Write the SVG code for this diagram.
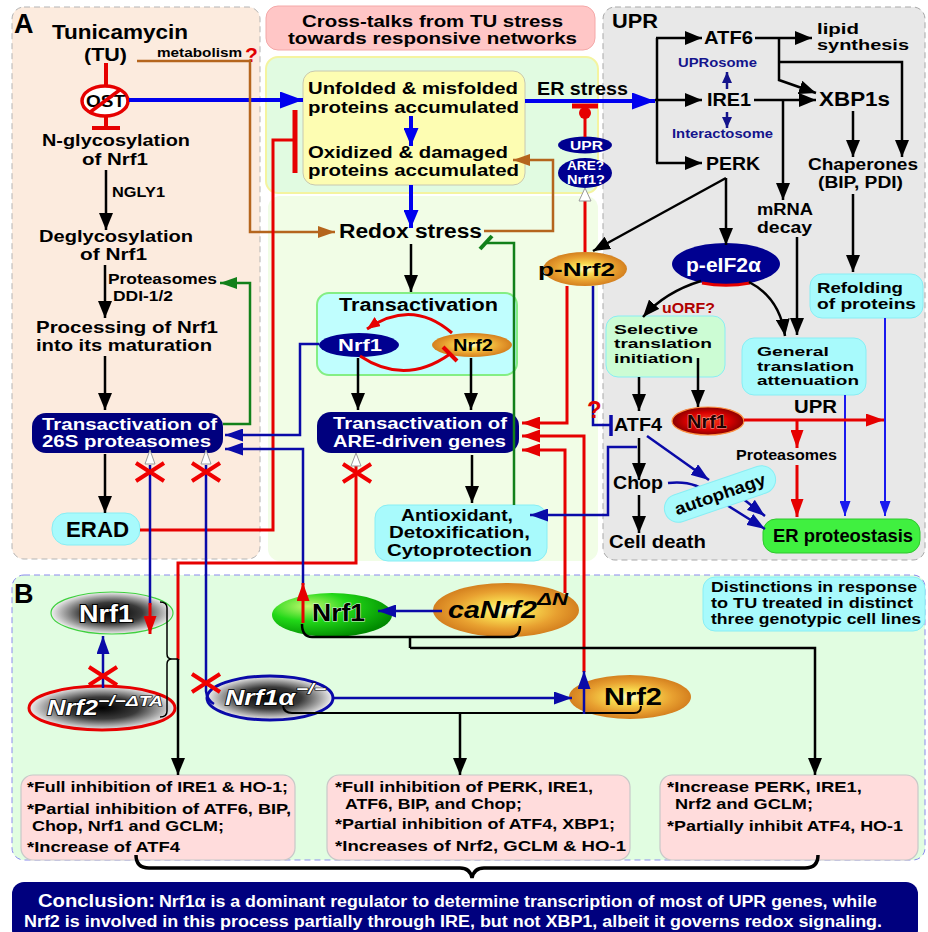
<svg xmlns="http://www.w3.org/2000/svg" width="928" height="932" viewBox="0 0 928 932">
<defs>
<style>
text{font-family:"Liberation Sans",Arial,sans-serif;font-weight:bold;fill:#000}
.w{fill:#fff}
.nv{fill:#14148c}
.it{font-style:italic}
.bk{stroke:#000;stroke-width:2.5;fill:none}
.bl{stroke:#0000ee;stroke-width:4;fill:none}
.bt{stroke:#1a1aee;stroke-width:2;fill:none}
.nb{stroke:#0a0aa8;stroke-width:2.5;fill:none}
.rd{stroke:#e60000;stroke-width:3;fill:none}
.br{stroke:#b5651d;stroke-width:2.5;fill:none}
.gr{stroke:#12801a;stroke-width:2.5;fill:none}
.x{stroke:#f00000;stroke-width:4;fill:none}
.wh{fill:#fff;stroke:#9a9a9a;stroke-width:1}
.navy{fill:#00007e}
.cy{fill:#a8fafc;stroke:#88eef4;stroke-width:1}
.pk{fill:#ffdcdc;stroke:#c8c8c8;stroke-width:1.2}
.brace{stroke:#000;fill:none}
</style>
<radialGradient id="gO" cx="50%" cy="50%" r="50%"><stop offset="0" stop-color="#ffffd0"/><stop offset="0.3" stop-color="#f9dc50"/><stop offset="0.7" stop-color="#e8a030"/><stop offset="1" stop-color="#d4801f"/></radialGradient>
<radialGradient id="gG" cx="50%" cy="50%" r="50%"><stop offset="0" stop-color="#000"/><stop offset="0.5" stop-color="#3a3a3a"/><stop offset="1" stop-color="#f0f0f0"/></radialGradient>
<radialGradient id="gN" cx="30%" cy="30%" r="75%"><stop offset="0" stop-color="#c4f870"/><stop offset="0.45" stop-color="#22d818"/><stop offset="1" stop-color="#008a00"/></radialGradient>
<radialGradient id="gR" cx="50%" cy="50%" r="50%"><stop offset="0" stop-color="#ff4020"/><stop offset="0.6" stop-color="#d80000"/><stop offset="1" stop-color="#8a0000"/></radialGradient>
<marker id="ak" viewBox="0 0 10 10" refX="10" refY="5" markerWidth="17" markerHeight="14" markerUnits="userSpaceOnUse" orient="auto" preserveAspectRatio="none"><path d="M0,0L10,5L0,10z" fill="#000"/></marker>
<marker id="abig" viewBox="0 0 10 10" refX="10" refY="5" markerWidth="23" markerHeight="17" markerUnits="userSpaceOnUse" orient="auto" preserveAspectRatio="none"><path d="M0,0L10,5L0,10z" fill="#0000ee"/></marker>
<marker id="abm" viewBox="0 0 10 10" refX="10" refY="5" markerWidth="18" markerHeight="15" markerUnits="userSpaceOnUse" orient="auto" preserveAspectRatio="none"><path d="M0,0L10,5L0,10z" fill="#0000ee"/></marker>
<marker id="ab" viewBox="0 0 10 10" refX="10" refY="5" markerWidth="15" markerHeight="11" markerUnits="userSpaceOnUse" orient="auto" preserveAspectRatio="none"><path d="M0,0L10,5L0,10z" fill="#1a1aee"/></marker>
<marker id="an" viewBox="0 0 10 10" refX="10" refY="5" markerWidth="18" markerHeight="13" markerUnits="userSpaceOnUse" orient="auto" preserveAspectRatio="none"><path d="M0,0L10,5L0,10z" fill="#0a0aa8"/></marker>
<marker id="ans" viewBox="0 0 10 10" refX="10" refY="5" markerWidth="11" markerHeight="10" markerUnits="userSpaceOnUse" orient="auto" preserveAspectRatio="none"><path d="M0,0L10,5L0,10z" fill="#14148c"/></marker>
<marker id="ar" viewBox="0 0 10 10" refX="10" refY="5" markerWidth="18" markerHeight="13" markerUnits="userSpaceOnUse" orient="auto" preserveAspectRatio="none"><path d="M0,0L10,5L0,10z" fill="#e60000"/></marker>
<marker id="ars" viewBox="0 0 10 10" refX="10" refY="5" markerWidth="13" markerHeight="11" markerUnits="userSpaceOnUse" orient="auto" preserveAspectRatio="none"><path d="M0,0L10,5L0,10z" fill="#e60000"/></marker>
<marker id="aw" viewBox="0 0 10 10" refX="10" refY="5" markerWidth="17" markerHeight="12" markerUnits="userSpaceOnUse" orient="auto" preserveAspectRatio="none"><path d="M0,0L10,5L0,10z" fill="#b5651d"/></marker>
<marker id="ag" viewBox="0 0 10 10" refX="10" refY="5" markerWidth="17" markerHeight="12" markerUnits="userSpaceOnUse" orient="auto" preserveAspectRatio="none"><path d="M0,0L10,5L0,10z" fill="#12801a"/></marker>
<path id="xm" d="M-14,-9L14,9M-14,9L14,-9"/>
</defs>

<g id="panels">
<rect x="12" y="7" width="248" height="552" rx="12" fill="#fcebde" stroke="#b4b4b4" stroke-dasharray="6 4"/>
<rect x="266" y="57" width="332" height="136" rx="12" fill="#e1fbe1" stroke="#f4f4a0" stroke-width="2"/>
<rect x="268" y="196" width="330" height="365" rx="12" fill="#f1fde6"/>
<rect x="603" y="7" width="322" height="553" rx="12" fill="#e8e8e8" stroke="#a8a8a8" stroke-dasharray="6 4"/>
<rect x="12" y="575" width="913" height="285" rx="12" fill="#e1fde1" stroke="#8a8aee" stroke-dasharray="6 4"/>
<text x="14" y="33" font-size="27">A</text>
<text x="14" y="603" font-size="27">B</text>
<text x="612" y="28" font-size="20" textLength="46" lengthAdjust="spacingAndGlyphs">UPR</text>
</g>

<g id="title">
<rect x="266" y="6" width="329" height="44" rx="12" fill="#ffc6c6" stroke="#f4a8a8"/>
<text x="302" y="27" font-size="16" textLength="261" lengthAdjust="spacingAndGlyphs">Cross-talks from TU stress</text>
<text x="288" y="44" font-size="16" textLength="289" lengthAdjust="spacingAndGlyphs">towards responsive networks</text>
</g>

<g id="tunicamycin">
<text x="52" y="39" font-size="20" textLength="136" lengthAdjust="spacingAndGlyphs">Tunicamycin</text>
<text x="84" y="61" font-size="19" textLength="43" lengthAdjust="spacingAndGlyphs">(TU)</text>
</g>
<g id="metabolism">
<text x="157" y="57" font-size="13" textLength="85" lengthAdjust="spacingAndGlyphs">metabolism</text>
<text x="245" y="62" font-size="21" style="fill:#e00000">?</text>
</g>
<g id="ost">
<ellipse cx="105" cy="101" rx="23" ry="15" fill="#fff" stroke="#e60000" stroke-width="3.5"/>
<text x="86" y="107" font-size="16" textLength="39" lengthAdjust="spacingAndGlyphs">OST</text>
<path d="M89,113L121,89" stroke="#e60000" stroke-width="3.5"/>
</g>
<g id="nglyco">
<text x="42" y="146" font-size="17" textLength="148" lengthAdjust="spacingAndGlyphs">N-glycosylation</text>
<text x="82" y="165" font-size="17" textLength="66" lengthAdjust="spacingAndGlyphs">of Nrf1</text>
</g>
<g id="deglyco">
<text x="39" y="242" font-size="16.5" textLength="154" lengthAdjust="spacingAndGlyphs">Deglycosylation</text>
<text x="80" y="260" font-size="16.5" textLength="67" lengthAdjust="spacingAndGlyphs">of Nrf1</text>
</g>
<g id="processing">
<text x="36" y="333" font-size="16.5" textLength="182" lengthAdjust="spacingAndGlyphs">Processing of Nrf1</text>
<text x="36" y="351" font-size="16.5" textLength="176" lengthAdjust="spacingAndGlyphs">into its maturation</text>
</g>
<g id="proteasome26s">
<rect x="32" y="413" width="191" height="40" rx="14" class="navy"/>
<text x="42" y="430" font-size="16" class="w" textLength="175" lengthAdjust="spacingAndGlyphs">Transactivation of</text>
<text x="42" y="447" font-size="16" class="w" textLength="169" lengthAdjust="spacingAndGlyphs">26S proteasomes</text>
</g>
<g id="erad">
<rect x="52" y="513" width="88" height="32" rx="15" class="cy"/>
<text x="66" y="537" font-size="22" textLength="63" lengthAdjust="spacingAndGlyphs">ERAD</text>
</g>

<g id="accumulated">
<rect x="303" y="71" width="222" height="114" rx="12" fill="#fdfdb2" stroke="#c8c8b0"/>
<text x="308" y="94" font-size="17" textLength="210" lengthAdjust="spacingAndGlyphs">Unfolded &amp; misfolded</text>
<text x="308" y="113" font-size="17" textLength="211" lengthAdjust="spacingAndGlyphs">proteins accumulated</text>
<text x="308" y="158" font-size="17" textLength="200" lengthAdjust="spacingAndGlyphs">Oxidized &amp; damaged</text>
<text x="308" y="176" font-size="17" textLength="211" lengthAdjust="spacingAndGlyphs">proteins accumulated</text>
</g>
<g id="erstress"><text x="537" y="95" font-size="18" textLength="91" lengthAdjust="spacingAndGlyphs">ER stress</text></g>
<g id="redox"><text x="339" y="238" font-size="20" textLength="143" lengthAdjust="spacingAndGlyphs">Redox stress</text></g>
<g id="transactivation">
<rect x="317" y="293" width="200" height="82" rx="12" fill="#c0fefe" stroke="#84ee84" stroke-width="2"/>
<text x="339" y="311" font-size="18" textLength="159" lengthAdjust="spacingAndGlyphs">Transactivation</text>
</g>
<g id="nrf1-ta">
<ellipse cx="359" cy="345" rx="40" ry="12" fill="#000090"/>
<text x="338" y="351" font-size="17" class="w" textLength="44" lengthAdjust="spacingAndGlyphs">Nrf1</text>
</g>
<g id="nrf2-ta">
<ellipse cx="472" cy="345" rx="40" ry="12" fill="url(#gO)"/>
<text x="453" y="351" font-size="17" textLength="40" lengthAdjust="spacingAndGlyphs">Nrf2</text>
</g>
<g id="are">
<rect x="317" y="412" width="202" height="41" rx="14" class="navy"/>
<text x="333" y="429" font-size="16" class="w" textLength="174" lengthAdjust="spacingAndGlyphs">Transactivation of</text>
<text x="333" y="447" font-size="16" class="w" textLength="173" lengthAdjust="spacingAndGlyphs">ARE-driven genes</text>
</g>
<g id="antioxidant">
<rect x="375" y="505" width="172" height="56" rx="13" class="cy"/>
<text x="401" y="521" font-size="16" textLength="112" lengthAdjust="spacingAndGlyphs">Antioxidant,</text>
<text x="389" y="538" font-size="16" textLength="141" lengthAdjust="spacingAndGlyphs">Detoxification,</text>
<text x="387" y="556" font-size="16" textLength="145" lengthAdjust="spacingAndGlyphs">Cytoprotection</text>
</g>
<g id="upr-oval">
<ellipse cx="585" cy="145" rx="27" ry="8.5" fill="#000090"/>
<text x="570" y="150" font-size="12" class="w" textLength="33" lengthAdjust="spacingAndGlyphs">UPR</text>
</g>
<g id="are-oval">
<ellipse cx="585" cy="173" rx="27" ry="15" fill="#000090"/>
<text x="567" y="170" font-size="12" class="w" textLength="37" lengthAdjust="spacingAndGlyphs">ARE?</text>
<text x="567" y="184" font-size="12" class="w" textLength="38" lengthAdjust="spacingAndGlyphs">Nrf1?</text>
</g>
<g id="p-nrf2">
<ellipse cx="585" cy="269" rx="42" ry="17" fill="url(#gO)"/>
<text x="538" y="276" font-size="19" textLength="77" lengthAdjust="spacingAndGlyphs">p-Nrf2</text>
</g>

<g id="atf6"><text x="704" y="44" font-size="18" textLength="49" lengthAdjust="spacingAndGlyphs">ATF6</text></g>
<g id="lipid">
<text x="817" y="34" font-size="15" textLength="42" lengthAdjust="spacingAndGlyphs">lipid</text>
<text x="817" y="50" font-size="15" textLength="92" lengthAdjust="spacingAndGlyphs">synthesis</text>
</g>
<g id="uprosome"><text x="678" y="67" font-size="13" class="nv" textLength="79" lengthAdjust="spacingAndGlyphs">UPRosome</text></g>
<g id="ire1"><text x="707" y="106" font-size="18" textLength="44" lengthAdjust="spacingAndGlyphs">IRE1</text></g>
<g id="xbp1s"><text x="819" y="106" font-size="20" textLength="71" lengthAdjust="spacingAndGlyphs">XBP1s</text></g>
<g id="interactosome"><text x="672" y="138" font-size="13" class="nv" textLength="101" lengthAdjust="spacingAndGlyphs">Interactosome</text></g>
<g id="perk"><text x="706" y="170" font-size="18" textLength="54" lengthAdjust="spacingAndGlyphs">PERK</text></g>
<g id="chaperones">
<text x="808" y="170" font-size="16" textLength="110" lengthAdjust="spacingAndGlyphs">Chaperones</text>
<text x="818" y="188" font-size="16" textLength="85" lengthAdjust="spacingAndGlyphs">(BIP, PDI)</text>
</g>
<g id="mrna">
<text x="757" y="215" font-size="16" textLength="56" lengthAdjust="spacingAndGlyphs">mRNA</text>
<text x="757" y="233" font-size="16" textLength="55" lengthAdjust="spacingAndGlyphs">decay</text>
</g>
<g id="p-eif2a">
<ellipse cx="726" cy="264" rx="54" ry="21" fill="#000090"/>
<text x="686" y="272" font-size="20" class="w" textLength="75" lengthAdjust="spacingAndGlyphs">p-eIF2α</text>
<path d="M702,283A54,21 0 0 0 750,283" stroke="#e60000" stroke-width="3" fill="none"/>
</g>
<g id="refolding">
<rect x="810" y="274" width="113" height="44" rx="12" class="cy"/>
<text x="817" y="293" font-size="15" textLength="86" lengthAdjust="spacingAndGlyphs">Refolding</text>
<text x="817" y="309" font-size="15" textLength="99" lengthAdjust="spacingAndGlyphs">of proteins</text>
</g>
<g id="uorf"><text x="662" y="313" font-size="14" style="fill:#b00000" textLength="53" lengthAdjust="spacingAndGlyphs">uORF?</text></g>
<g id="selective">
<rect x="606" y="316" width="119" height="61" rx="12" fill="#ccfcd4" stroke="#88eef4"/>
<text x="614" y="334" font-size="13.5" textLength="84" lengthAdjust="spacingAndGlyphs">Selective</text>
<text x="614" y="348" font-size="13.5" textLength="98" lengthAdjust="spacingAndGlyphs">translation</text>
<text x="614" y="363" font-size="13.5" textLength="79" lengthAdjust="spacingAndGlyphs">initiation</text>
</g>
<g id="general">
<rect x="742" y="338" width="124" height="57" rx="12" class="cy"/>
<text x="757" y="356" font-size="13.5" textLength="72" lengthAdjust="spacingAndGlyphs">General</text>
<text x="757" y="371" font-size="13.5" textLength="97" lengthAdjust="spacingAndGlyphs">translation</text>
<text x="757" y="385" font-size="13.5" textLength="102" lengthAdjust="spacingAndGlyphs">attenuation</text>
</g>
<g id="atf4"><text x="614" y="431" font-size="18" textLength="48" lengthAdjust="spacingAndGlyphs">ATF4</text></g>
<g id="nrf1-red">
<ellipse cx="708" cy="421" rx="36" ry="14" fill="url(#gR)" stroke="#ff9040" stroke-width="1.2"/>
<text x="687" y="428" font-size="18" style="fill:#200000;stroke:#ffb0a0;stroke-width:0.8;paint-order:stroke" textLength="40" lengthAdjust="spacingAndGlyphs">Nrf1</text>
</g>
<g id="upr-label"><text x="794" y="413" font-size="18" textLength="43" lengthAdjust="spacingAndGlyphs">UPR</text></g>
<g id="proteasomes-label"><text x="736" y="460" font-size="14" textLength="101" lengthAdjust="spacingAndGlyphs">Proteasomes</text></g>
<g id="chop"><text x="613" y="489" font-size="18" textLength="50" lengthAdjust="spacingAndGlyphs">Chop</text></g>
<g id="celldeath"><text x="609" y="548" font-size="18" textLength="97" lengthAdjust="spacingAndGlyphs">Cell death</text></g>
<g id="er-proteostasis">
<rect x="763" y="519" width="157" height="34" rx="13" fill="#40f040" stroke="#2cc82c"/>
<text x="773" y="542" font-size="18" textLength="140" lengthAdjust="spacingAndGlyphs">ER proteostasis</text>
</g>

<g id="nrf1-gray">
<ellipse cx="112" cy="613" rx="61" ry="21" fill="url(#gG)" stroke="#40d040" stroke-width="1.2"/>
<text x="79" y="622" font-size="24" class="w" style="stroke:#000;stroke-width:2;paint-order:stroke" textLength="54" lengthAdjust="spacingAndGlyphs">Nrf1</text>
</g>
<g id="nrf2-dta">
<ellipse cx="102" cy="708" rx="73" ry="22" fill="url(#gG)" stroke="#e60000" stroke-width="3"/>
<text x="47" y="715" font-size="22" class="w it" style="stroke:#000;stroke-width:1.5;paint-order:stroke" textLength="51" lengthAdjust="spacingAndGlyphs">Nrf2</text>
<text x="98" y="706" font-size="15" class="w it" style="stroke:#000;stroke-width:1.2;paint-order:stroke" textLength="65" lengthAdjust="spacingAndGlyphs">−/−ΔTA</text>
</g>
<g id="nrf1-green">
<ellipse cx="332" cy="615" rx="60" ry="22" fill="url(#gN)"/>
<text x="312" y="621" font-size="24" style="stroke:#e0ffe0;stroke-width:1;paint-order:stroke" textLength="53" lengthAdjust="spacingAndGlyphs">Nrf1</text>
</g>
<g id="canrf2">
<ellipse cx="506" cy="610" rx="73" ry="27" fill="url(#gO)"/>
<text x="448" y="618" font-size="23" class="it" textLength="89" lengthAdjust="spacingAndGlyphs">caNrf2</text>
<text x="537" y="605" font-size="16" class="it" textLength="31" lengthAdjust="spacingAndGlyphs">ΔN</text>
</g>
<g id="nrf1a-ko">
<ellipse cx="270" cy="698" rx="63" ry="22" fill="url(#gG)" stroke="#0a0aa8" stroke-width="3"/>
<text x="225" y="705" font-size="22" class="w it" style="stroke:#000;stroke-width:1.5;paint-order:stroke" textLength="70" lengthAdjust="spacingAndGlyphs">Nrf1α</text>
<text x="296" y="694" font-size="15" class="w it" style="stroke:#000;stroke-width:1.2;paint-order:stroke" textLength="30" lengthAdjust="spacingAndGlyphs">−/−</text>
</g>
<g id="nrf2-b">
<ellipse cx="630" cy="697" rx="61" ry="22" fill="url(#gO)"/>
<text x="604" y="705" font-size="24" textLength="58" lengthAdjust="spacingAndGlyphs">Nrf2</text>
</g>
<g id="distinctions">
<rect x="703" y="577" width="222" height="54" rx="12" class="cy"/>
<text x="711" y="592" font-size="14" textLength="206" lengthAdjust="spacingAndGlyphs">Distinctions in response</text>
<text x="711" y="608" font-size="14" textLength="202" lengthAdjust="spacingAndGlyphs">to TU treated in distinct</text>
<text x="711" y="624" font-size="14" textLength="210" lengthAdjust="spacingAndGlyphs">three genotypic cell lines</text>
</g>
<g id="result-nrf2ko">
<rect x="21" y="775" width="274" height="85" rx="12" class="pk"/>
<text x="27" y="792" font-size="14.5" textLength="261" lengthAdjust="spacingAndGlyphs">*Full inhibition of IRE1 &amp; HO-1;</text>
<text x="27" y="814" font-size="14.5" textLength="264" lengthAdjust="spacingAndGlyphs">*Partial inhibition of ATF6, BIP,</text>
<text x="32" y="831" font-size="14.5" textLength="192" lengthAdjust="spacingAndGlyphs">Chop, Nrf1 and GCLM;</text>
<text x="27" y="852" font-size="14.5" textLength="153" lengthAdjust="spacingAndGlyphs">*Increase of ATF4</text>
</g>
<g id="result-nrf1ko">
<rect x="327" y="775" width="303" height="85" rx="12" class="pk"/>
<text x="335" y="792" font-size="14.5" textLength="258" lengthAdjust="spacingAndGlyphs">*Full inhibition of PERK, IRE1,</text>
<text x="345" y="809" font-size="14.5" textLength="177" lengthAdjust="spacingAndGlyphs">ATF6, BIP, and Chop;</text>
<text x="335" y="829" font-size="14.5" textLength="280" lengthAdjust="spacingAndGlyphs">*Partial inhibition of ATF4, XBP1;</text>
<text x="335" y="851" font-size="14.5" textLength="291" lengthAdjust="spacingAndGlyphs">*Increases of Nrf2, GCLM &amp; HO-1</text>
</g>
<g id="result-canrf2">
<rect x="660" y="775" width="258" height="85" rx="12" class="pk"/>
<text x="667" y="792" font-size="14.5" textLength="195" lengthAdjust="spacingAndGlyphs">*Increase PERK, IRE1,</text>
<text x="675" y="809" font-size="14.5" textLength="138" lengthAdjust="spacingAndGlyphs">Nrf2 and GCLM;</text>
<text x="667" y="831" font-size="14.5" textLength="236" lengthAdjust="spacingAndGlyphs">*Partially inhibit ATF4, HO-1</text>
</g>
<g id="conclusion">
<rect x="12" y="882" width="906" height="60" rx="12" class="navy"/>
<text x="38" y="907" font-size="19" class="w" textLength="117" lengthAdjust="spacingAndGlyphs">Conclusion:</text>
<text x="159" y="907" font-size="16" class="w" textLength="718" lengthAdjust="spacingAndGlyphs">Nrf1α is a dominant regulator to determine transcription of most of UPR genes, while</text>
<text x="24" y="927" font-size="16" class="w" textLength="858" lengthAdjust="spacingAndGlyphs">Nrf2 is involved in this process partially through IRE, but not XBP1, albeit it governs redox signaling.</text>
</g>

<g id="connectors">
<path d="M106,63V86" stroke="#e60000" stroke-width="4" fill="none"/>
<path d="M106,117V128M92,128H120" stroke="#e60000" stroke-width="4" fill="none"/>
<path class="bl" d="M129,100H303" marker-end="url(#abig)"/>
<path class="br" d="M137,61H250V232H335" marker-end="url(#aw)"/>
<path class="bk" d="M106,170V230" marker-end="url(#ak)"/>
<text x="112" y="197" font-size="15" textLength="53" lengthAdjust="spacingAndGlyphs">NGLY1</text>
<path class="bk" d="M105,265V318" marker-end="url(#ak)"/>
<text x="108" y="284" font-size="15" textLength="109" lengthAdjust="spacingAndGlyphs">Proteasomes</text>
<text x="113" y="301" font-size="14" textLength="60" lengthAdjust="spacingAndGlyphs">DDI-1/2</text>
<path class="bk" d="M105,356V410" marker-end="url(#ak)"/>
<path class="bk" d="M105,454V513" marker-end="url(#ak)"/>
<path class="gr" d="M223,424H250V283H220" marker-end="url(#ag)"/>
<path class="rd" d="M140,530H273V140H293"/>
<path d="M295,110V173" stroke="#e60000" stroke-width="5"/>
<path class="rd" d="M178,660V563H356V466"/>
<path class="rd" d="M565,593V450H522" marker-end="url(#ar)"/>
<path class="rd" d="M584,672V436H522" marker-end="url(#ar)"/>
<path class="rd" d="M567,286V423H522" marker-end="url(#ar)"/>
<path class="rd" d="M585,252V200"/>
<polygon class="wh" points="585,188 579,201 591,201"/>
<path class="rd" d="M585,137V116"/>
<circle cx="585" cy="113" r="6" fill="#e60000"/>
<path d="M572,106H598" stroke="#e60000" stroke-width="5"/>
<path class="nb" d="M593,286V425H610"/>
<path d="M611,415V436" stroke="#0a0aa8" stroke-width="3.5"/>
<text x="587" y="418" font-size="24" style="fill:#e00000">?</text>
<path class="bl" d="M525,101H655" marker-end="url(#abig)"/>
<path class="bl" d="M411,116V146" stroke-width="3.5" marker-end="url(#abm)"/>
<path class="bl" d="M411,185V228" stroke-width="3.5" marker-end="url(#abm)"/>
<path class="br" d="M484,231H553V160H513" marker-end="url(#aw)"/>
<path class="gr" d="M514,505V243H487"/>
<path d="M480,249L492,236" stroke="#12801a" stroke-width="4"/>
<path class="bk" d="M411,244V292" marker-end="url(#ak)"/>
<path class="rd" d="M452,333Q412,298 367,329" marker-end="url(#ars)"/>
<path class="rd" d="M360,356Q405,386 450,354"/>
<path d="M443,347L457,361" stroke="#e60000" stroke-width="4"/>
<path class="bk" d="M358,358V410" marker-end="url(#ak)"/>
<path class="bk" d="M471,358V410" marker-end="url(#ak)"/>
<path class="bk" d="M472,455V503" marker-end="url(#ak)"/>
<path class="nb" d="M637,447H608V515H530" marker-end="url(#an)"/>
<path class="nb" d="M319,344H300V435H225" marker-end="url(#an)"/>
<path class="nb" d="M303,585V449H225" marker-end="url(#an)"/>
<path class="rd" d="M303,623V583" stroke-width="3.5" marker-end="url(#ar)"/>
<path class="nb" d="M150,465V605"/>
<path class="rd" d="M150,603V634" marker-end="url(#ar)"/>
<path class="nb" d="M206,465V691Q207,700 214,704"/>
<polygon class="wh" points="150,450 145,464 155,464"/>
<polygon class="wh" points="206,450 201,464 211,464"/>
<polygon class="wh" points="356,453 351,466 361,466"/>
<use href="#xm" class="x" transform="translate(150,472)"/>
<use href="#xm" class="x" transform="translate(206,472)"/>
<use href="#xm" class="x" transform="translate(357,473)"/>
<path class="bk" d="M657,38V163"/>
<path class="bk" d="M656,38H702" marker-end="url(#ak)"/>
<path class="bk" d="M655,100H702" marker-end="url(#ak)"/>
<path class="bk" d="M656,163H702" marker-end="url(#ak)"/>
<path class="bk" d="M755,38H812" marker-end="url(#ak)"/>
<path class="bk" d="M779,38V80L816,93" marker-end="url(#ak)"/>
<path class="bk" d="M779,62H902V157" marker-end="url(#ak)"/>
<path class="bk" d="M754,100H816" marker-end="url(#ak)"/>
<path class="bk" d="M783,100V200" marker-end="url(#ak)"/>
<path d="M727,89V72" stroke="#14148c" stroke-width="2.5" marker-end="url(#ans)"/>
<path d="M727,112V128" stroke="#14148c" stroke-width="2.5" marker-end="url(#ans)"/>
<path class="bk" d="M853,111V157" marker-end="url(#ak)"/>
<path class="bk" d="M853,194V272" marker-end="url(#ak)"/>
<path class="bk" d="M726,178V245" marker-end="url(#ak)"/>
<path class="bk" d="M726,178L593,251" marker-end="url(#ak)"/>
<path class="bk" d="M701,281Q665,292 643,317" marker-end="url(#ak)"/>
<path class="bk" d="M749,282Q780,298 785,336" marker-end="url(#ak)"/>
<path class="bk" d="M797,237V335" marker-end="url(#ak)"/>
<path class="bt" d="M885,318V516" marker-end="url(#ab)"/>
<path class="bt" d="M845,395V516" marker-end="url(#ab)"/>
<path class="bk" d="M639,377V411" marker-end="url(#ak)"/>
<path class="bk" d="M698,358V407" marker-end="url(#ak)"/>
<path class="rd" d="M744,420H884" stroke-width="4" marker-end="url(#ar)"/>
<path class="rd" d="M797,420V448" stroke-width="3.5" marker-end="url(#ar)"/>
<path class="rd" d="M797,465V517" stroke-width="3.5" marker-end="url(#ar)"/>
<path class="bk" d="M639,438V480" marker-end="url(#ak)"/>
<path class="bk" d="M639,495V533" marker-end="url(#ak)"/>
<path class="nb" d="M647,436L709,480" marker-end="url(#an)"/>
<path class="nb" d="M668,483C695,480 705,490 722,502L765,529" marker-end="url(#an)"/>
<path class="nb" d="M742,498L765,516" marker-end="url(#an)"/>
<path class="nb" stroke-width="3" d="M103,688V636" marker-end="url(#an)"/>
<use href="#xm" class="x" transform="translate(103,676)"/>
<use href="#xm" class="x" transform="translate(206,683)"/>
<path class="brace" stroke-width="1.5" d="M160,602Q167,602 167,608V654Q167,659 172,659H178M172,659Q167,659 167,664V711Q167,717 160,717"/>
<path class="bk" stroke-width="3.5" d="M178,659V775" marker-end="url(#ak)"/>
<path class="nb" stroke-width="3" d="M442,611H378" marker-end="url(#an)"/>
<path class="brace" stroke-width="2.5" d="M302,624Q302,637 312,637H510Q520,637 520,626M410,637V648"/>
<path class="bk" stroke-width="3.5" d="M410,648H815V775" marker-end="url(#ak)"/>
<path class="nb" stroke-width="3" d="M333,698H572" marker-end="url(#an)"/>
<path class="brace" stroke-width="2" d="M283,706Q284,713 292,713H634Q641,713 641,706"/>
<path class="bk" stroke-width="3.5" d="M460,713V775" marker-end="url(#ak)"/>
<path class="nb" stroke-width="3.5" d="M584,714V671" marker-end="url(#an)"/>
<path class="brace" stroke-width="3.5" d="M136,855Q136,868 149,868H460Q470,868 472,878Q474,868 484,868H805Q818,868 818,855"/>
</g>

<g id="autophagy" transform="translate(720,494) rotate(-19)">
<rect x="-58" y="-14" width="116" height="28" rx="14" class="cy"/>
<text x="0" y="6" font-size="17" text-anchor="middle" textLength="95" lengthAdjust="spacingAndGlyphs">autophagy</text>
</g>
</svg>
